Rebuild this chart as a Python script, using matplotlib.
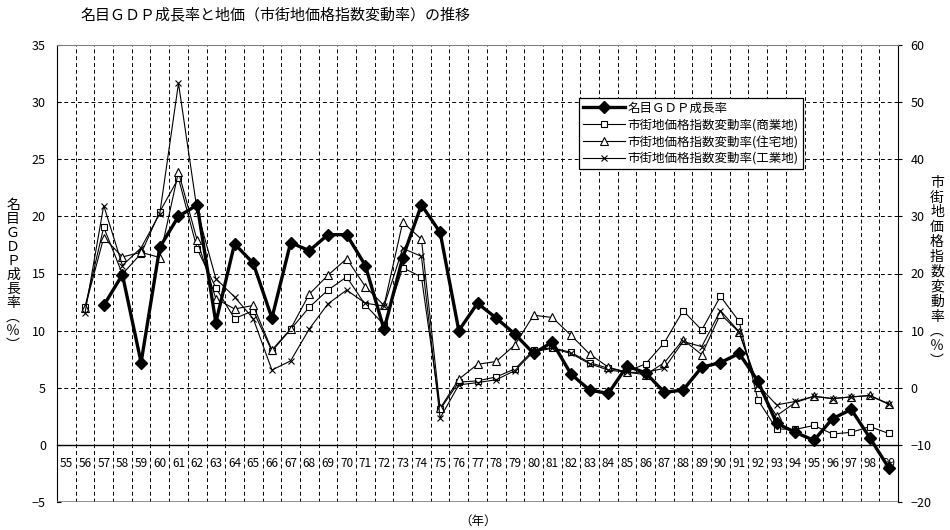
import matplotlib
matplotlib.use('Agg')
import matplotlib.pyplot as plt
import numpy as np

plt.rcParams['font.family'] = ['Noto Sans CJK JP', 'DejaVu Sans']

nan = np.nan
years = [str(y) for y in range(55, 100)]

# 名目GDP成長率 (%), left axis
gdp = [nan, nan, 12.2, 14.9, 7.2, 17.3, 20.0, 21.0, 10.7, 17.6,
       15.9, 11.1, 17.7, 17.0, 18.4, 18.4, 15.7, 10.1, 16.4, 21.0,
       18.6, 10.0, 12.4, 11.1, 9.7, 8.0, 9.0, 6.2, 4.8, 4.5,
       6.9, 6.3, 4.6, 4.8, 6.8, 7.2, 8.0, 5.6, 1.9, 1.1,
       0.4, 2.3, 3.1, 0.6, -2.0]

# 市街地価格指数変動率 (%), right axis
commercial = [nan, 14.1, 28.1, 19.9, 23.5, 30.8, 36.7, 24.3, 17.5, 12.1,
              13.5, 6.4, 10.2, 14.1, 17.1, 19.4, 14.5, 11.0, 21.0, 19.4,
              -3.8, 1.0, 1.2, 1.9, 3.3, 6.6, 7.0, 6.2, 4.4, 3.4,
              2.8, 4.2, 7.9, 13.5, 10.1, 16.0, 11.6, -2.1, -7.2, -7.3,
              -6.6, -8.1, -7.8, -6.8, -8.0]
residential = [nan, 14.0, 26.3, 22.9, 23.7, 22.8, 37.8, 25.8, 15.6, 13.8,
               14.4, 6.6, 10.3, 16.4, 19.7, 22.6, 17.7, 14.4, 29.0, 26.0,
               -3.6, 1.5, 4.1, 4.6, 7.5, 12.7, 12.3, 9.2, 5.9, 3.6,
               2.7, 2.3, 4.4, 8.4, 5.8, 12.9, 9.7, 0.2, -4.9, -2.6,
               -1.5, -1.9, -1.6, -1.35, -2.8]
industrial = [nan, 13.1, 31.9, 21.4, 24.5, 30.5, 53.3, 31.0, 19.1, 15.9,
              12.1, 3.1, 4.7, 10.3, 14.7, 17.1, 14.8, 14.3, 24.4, 23.0,
              -5.3, 0.5, 0.9, 1.4, 3.0, 6.3, 6.9, 6.0, 4.2, 3.1,
              2.7, 2.7, 3.4, 8.1, 7.2, 13.5, 9.8, 0.5, -3.0, -2.4,
              -1.5, -1.9, -1.6, -1.4, -2.9]

title = '名目ＧＤＰ成長率と地価（市街地価格指数変動率）の推移'
left_label = '名目ＧＤＰ成長率︵％︶'
right_label = '市街地価格指数変動率︵％︶'
labels = ['名目ＧＤＰ成長率', '市街地価格指数変動率(商業地)',
          '市街地価格指数変動率(住宅地)', '市街地価格指数変動率(工業地)']

W, H = 950, 530
fig = plt.figure(figsize=(W / 100, H / 100), dpi=100)
ax = fig.add_axes([57 / W, 1 - 502 / H, (898 - 57) / W, (502 - 45) / H])
ax2 = ax.twinx()
ax.set_zorder(ax2.get_zorder() + 1)
ax.patch.set_visible(False)

x = np.arange(len(years))
ax.set_xlim(-0.5, len(years) - 0.5)
ax.set_ylim(-5, 35)
ax2.set_ylim(-20, 60)
ax.set_yticks(range(-5, 36, 5))
ax2.set_yticks(range(-20, 61, 10))
ax.set_xticks(x, years)
ax.set_xticks(np.arange(0.5, len(years) - 1, 1), minor=True)

dash = (0, (4, 3))
ax.grid(True, which='minor', axis='x', color='black', lw=0.7, ls=dash)
ax.grid(True, which='major', axis='y', color='black', lw=0.7, ls=dash)
ax.grid(False, which='major', axis='x')

ax.spines['bottom'].set_position(('data', 0))
ax.spines['bottom'].set_color('black')
ax.spines['bottom'].set_linewidth(1.0)
ax.spines['top'].set_color('#808080')
ax.spines['right'].set_visible(False)
ax.spines['left'].set_color('black')
for s in ['top', 'bottom', 'left']:
    ax2.spines[s].set_visible(False)
ax2.spines['right'].set_color('black')
ax.axhline(-5, color='#808080', lw=1.2, zorder=3)

ax.tick_params(axis='x', which='both', length=0, pad=9, labelsize=8.5)
ax.tick_params(axis='y', direction='in', length=3, labelsize=9, pad=8)
ax2.tick_params(axis='y', direction='out', length=3, labelsize=9, pad=6)

l1, = ax.plot(x, gdp, color='black', lw=2.4, marker='D', ms=6,
              mfc='black', mec='black', label=labels[0], zorder=5)
l2, = ax2.plot(x, commercial, color='black', lw=0.8, marker='s', ms=5,
               mfc='white', mec='black', mew=0.8, label=labels[1])
l3, = ax2.plot(x, residential, color='black', lw=0.8, marker='^', ms=5.5,
               mfc='white', mec='black', mew=0.8, label=labels[2])
l4, = ax2.plot(x, industrial, color='black', lw=0.8, marker='x', ms=4.5,
               mec='black', mew=0.8, label=labels[3])

leg = ax.legend(handles=[l1, l2, l3, l4], loc='upper left',
                bbox_to_anchor=(579 / W, 1 - 98 / H),
                bbox_transform=fig.transFigure, fontsize=9,
                frameon=True, fancybox=False, edgecolor='black',
                framealpha=1, borderpad=0.3, labelspacing=0.3,
                handlelength=3.4, handletextpad=0.2, borderaxespad=0)
leg.get_frame().set_linewidth(0.9)

fig.text(80 / W, 1 - 15 / H, title, ha='left', va='center', fontsize=10.8)
fig.text(13 / W, 1 - 275 / H, '\n'.join(left_label), ha='center',
         va='center', fontsize=10, linespacing=1.0)
fig.text(937 / W, 1 - 272 / H, '\n'.join(right_label), ha='center',
         va='center', fontsize=10, linespacing=1.08)
fig.text(478 / W, 1 - 521 / H, '（年）', ha='center', va='center',
         fontsize=9)

fig.savefig('out.png', dpi=100)
